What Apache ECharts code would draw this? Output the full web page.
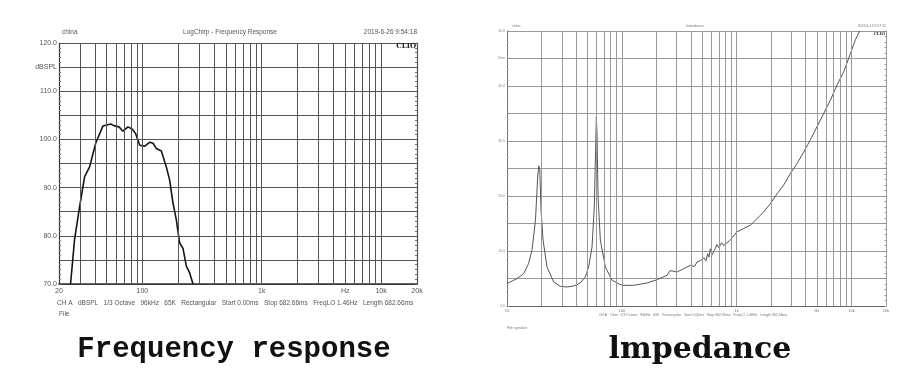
<!DOCTYPE html>
<html>
<head>
<meta charset="utf-8">
<script src="https://cdn.jsdelivr.net/npm/echarts@6/dist/echarts.min.js"></script>
<style>
  html, body { margin: 0; padding: 0; background: #fff; }
  #chart { width: 906px; height: 377px; }
</style>
</head>
<body>
<div id="chart"></div>
<script>
// frequency response (CLIO LogChirp)
var frFreq = [25, 27, 29.8, 32.8, 36.1, 40.6, 46.7, 54.2, 58.5, 63.7, 68.7, 75.7, 82.4, 87.8, 94.9, 104.5, 115, 122.8, 130.9, 144, 158.6, 169, 180.4, 192.4, 205.2, 218.8, 233.4, 249, 265.5]
var frLevel = [70, 79.2, 86.1, 92.3, 94.3, 99.2, 102.8, 103.2, 102.8, 102.6, 101.7, 102.6, 102.1, 101.2, 98.8, 98.6, 99.4, 99.2, 98.1, 97.6, 94.3, 91.6, 86.8, 83.3, 78.5, 77.4, 73.7, 72.3, 70]
var frGridFreqs = [30, 40, 50, 60, 70, 80, 90, 100, 200, 300, 400, 500, 600, 700, 800, 900, 1000, 2000, 3000, 4000, 5000, 6000, 7000, 8000, 9000, 10000, 20000]
var frXTicks = [20, 100, 1000, 5000, 10000, 20000]
var frXTickText = ['20', '100', '1k', 'Hz', '10k', '20k']

// impedance
var impFreq = [10, 12.2, 14, 15.4, 16.5, 17.7, 18.5, 18.9, 19.3, 19.8, 20.6, 22.3, 25.5, 29.2, 33.3, 38.1, 43.5, 48.1, 51.4, 55, 57.6, 59.2, 60, 60.8, 62.1, 65, 71.9, 82.2, 100.4, 126.9, 166, 203, 248, 262, 274, 303, 346, 396, 430, 452, 490, 517, 540, 560, 575, 590, 610, 640, 675, 700, 740, 771, 881, 1007, 1152, 1318, 1507, 1722, 1968, 2249, 2570, 2938, 3358, 3838, 4388, 5012, 5729, 6549, 7495, 8570, 9800, 10820, 11800]
var impOhm = [4.07, 4.98, 5.9, 7.7, 10.1, 15.6, 23.5, 25.5, 24.7, 17.4, 12, 7.1, 4.37, 3.58, 3.46, 3.64, 4.19, 5.28, 7.1, 10.7, 18, 28.9, 34.4, 31.4, 19.8, 12, 7.1, 4.67, 3.76, 3.76, 4.19, 4.79, 5.58, 6.4, 6.37, 6.19, 6.8, 7.4, 7.2, 8.0, 8.3, 8.8, 8.2, 9.5, 8.9, 10.4, 9.3, 10.1, 11.2, 10.6, 11.5, 11.0, 12.0, 13.5, 14.1, 14.7, 15.9, 17.1, 18.6, 20.4, 22, 24.1, 25.9, 28, 30.2, 32.6, 35, 37.4, 40.2, 42.6, 45.9, 48.4, 50]
var impGridFreqs = [20, 30, 40, 50, 60, 70, 80, 90, 100, 200, 300, 400, 500, 600, 700, 800, 900, 1000, 2000, 3000, 4000, 5000, 6000, 7000, 8000, 9000, 10000, 20000]
var impXTicks = [10, 100, 1000, 5000, 10000, 20000]
var impXTickText = ['10', '100', '1k', 'Hz', '10k', '20k']

var sans = '"Liberation Sans", Arial, sans-serif'

function tickText(values, texts) {
  return function (v) {
    for (var i = 0; i < values.length; i++) {
      if (Math.abs(v - values[i]) / values[i] < 0.01) return texts[i]
    }
    return ''
  }
}

function vLines(freqs) {
  return freqs.map(function (f) { return { xAxis: f } })
}

var myChart = echarts.init(document.getElementById('chart'))
var option = {
  animation: false,
  backgroundColor: '#fff',
  grid: [
    { left: 59, top: 43, width: 358, height: 241 },
    { left: 507, top: 31, width: 379, height: 275 },
  ],
  xAxis: [
    {
      type: 'log', logBase: 10, gridIndex: 0, min: 20, max: 20000,
      axisLine: { lineStyle: { color: '#333', width: 1.5 } },
      axisTick: { show: false },
      splitLine: { show: false },
      axisLabel: {
        customValues: frXTicks, formatter: tickText(frXTicks, frXTickText),
        color: '#555', fontSize: 7, fontFamily: sans, margin: 4,
        showMinLabel: true, showMaxLabel: true,
      },
    },
    {
      type: 'log', logBase: 10, gridIndex: 1, min: 10, max: 20000,
      axisLine: { lineStyle: { color: '#666', width: 1 } },
      axisTick: { show: false },
      splitLine: { show: false },
      axisLabel: {
        customValues: impXTicks, formatter: tickText(impXTicks, impXTickText),
        color: '#777', fontSize: 4, fontFamily: sans, margin: 3,
        showMinLabel: true, showMaxLabel: true,
      },
    },
  ],
  yAxis: [
    {
      type: 'value', gridIndex: 0, min: 70, max: 120, interval: 5,
      axisLine: { show: true, lineStyle: { color: '#333', width: 1.2 } },
      axisTick: { show: true, inside: true, length: 3, lineStyle: { color: '#555' } },
      minorTick: { show: true, splitNumber: 5, length: 2, lineStyle: { color: '#777' } },
      splitLine: { show: true, lineStyle: { color: '#555', width: 1 } },
      axisLabel: {
        formatter: function (v) { return v === 115 ? 'dBSPL' : (v % 10 === 0 ? v.toFixed(1) : '') },
        color: '#555', fontSize: 7, fontFamily: sans, margin: 2,
      },
    },
    {
      type: 'value', gridIndex: 0, position: 'right', min: 70, max: 120, interval: 5,
      axisLine: { show: true, lineStyle: { color: '#333', width: 1.2 } },
      axisTick: { show: true, inside: true, length: 3, lineStyle: { color: '#555' } },
      minorTick: { show: true, splitNumber: 5, length: 2, lineStyle: { color: '#777' } },
      splitLine: { show: false },
      axisLabel: { show: false },
    },
    {
      type: 'value', gridIndex: 1, min: 0, max: 50, interval: 5,
      axisLine: { show: true, lineStyle: { color: '#777', width: 1 } },
      axisTick: { show: true, inside: true, length: 2, lineStyle: { color: '#888' } },
      minorTick: { show: true, splitNumber: 5, length: 1.5, lineStyle: { color: '#999' } },
      splitLine: { show: true, lineStyle: { color: '#999', width: 1 } },
      axisLabel: {
        formatter: function (v) { return v === 45 ? 'Ohm' : (v % 10 === 0 ? v.toFixed(1) : '') },
        color: '#888', fontSize: 3.5, fontFamily: sans, margin: 2,
      },
    },
    {
      type: 'value', gridIndex: 1, position: 'right', min: 0, max: 50, interval: 5,
      axisLine: { show: true, lineStyle: { color: '#777', width: 1 } },
      axisTick: { show: true, inside: true, length: 2, lineStyle: { color: '#888' } },
      minorTick: { show: true, splitNumber: 5, length: 1.5, lineStyle: { color: '#999' } },
      splitLine: { show: false },
      axisLabel: { show: false },
    },
  ],
  series: [
    {
      type: 'line', xAxisIndex: 0, yAxisIndex: 0,
      data: frFreq.map(function (f, i) { return [f, frLevel[i]] }),
      symbol: 'none', smooth: false,
      lineStyle: { color: '#151515', width: 1.6 },
      markLine: {
        silent: true, symbol: ['none', 'none'], label: { show: false },
        lineStyle: { type: 'solid', color: '#555', width: 1 },
        data: vLines(frGridFreqs),
      },
      z: 3,
    },
    {
      type: 'line', xAxisIndex: 1, yAxisIndex: 2,
      data: impFreq.map(function (f, i) { return [f, impOhm[i]] }),
      symbol: 'none', smooth: false,
      lineStyle: { color: '#555', width: 1 },
      markLine: {
        silent: true, symbol: ['none', 'none'], label: { show: false },
        lineStyle: { type: 'solid', color: '#999', width: 1 },
        data: vLines(impGridFreqs),
      },
      z: 3,
    },
  ],
  graphic: [
    // left chart header / footer
    { type: 'text', x: 62, y: 32, style: { text: 'china', font: '6.5px ' + sans, fill: '#555', align: 'left', verticalAlign: 'middle' } },
    { type: 'text', x: 230, y: 32, style: { text: 'LogChirp - Frequency Response', font: '6.5px ' + sans, fill: '#555', align: 'center', verticalAlign: 'middle' } },
    { type: 'text', x: 417, y: 32, style: { text: '2019-6-26 9:54:18', font: '6.5px ' + sans, fill: '#555', align: 'right', verticalAlign: 'middle' } },
    { type: 'text', x: 416, y: 46, z: 10, style: { text: 'CLIO', font: 'bold 7px "DejaVu Serif", serif', fill: '#222', align: 'right', verticalAlign: 'middle' } },
    { type: 'text', x: 57, y: 303, style: { text: 'CH A   dBSPL   1/3 Octave   96kHz   65K   Rectangular   Start 0.00ms   Stop 682.66ms   FreqLO 1.46Hz   Length 682.66ms', font: '6.5px ' + sans, fill: '#555', align: 'left', verticalAlign: 'middle' } },
    { type: 'text', x: 59, y: 314, style: { text: 'File', font: '6.5px ' + sans, fill: '#555', align: 'left', verticalAlign: 'middle' } },
    // right chart header / footer
    { type: 'text', x: 512, y: 26, style: { text: 'china', font: '3.5px ' + sans, fill: '#777', align: 'left', verticalAlign: 'middle' } },
    { type: 'text', x: 695, y: 26, style: { text: 'Impedance', font: '3.5px ' + sans, fill: '#777', align: 'center', verticalAlign: 'middle' } },
    { type: 'text', x: 886, y: 26, style: { text: '2019-6-11 9:57:22', font: '3.5px ' + sans, fill: '#777', align: 'right', verticalAlign: 'middle' } },
    { type: 'text', x: 885, y: 33.5, z: 10, style: { text: 'CLIO', font: 'bold 4px "DejaVu Serif", serif', fill: '#333', align: 'right', verticalAlign: 'middle' } },
    { type: 'text', x: 693, y: 315, style: { text: 'CH A   Ohm   1/3 Octave   96kHz   65K   Rectangular   Start 0.00ms   Stop 682.66ms   FreqLO 1.46Hz   Length 682.66ms', font: '3.5px ' + sans, fill: '#777', align: 'center', verticalAlign: 'middle' } },
    { type: 'text', x: 507, y: 328, style: { text: 'File: speaker', font: '3.5px ' + sans, fill: '#777', align: 'left', verticalAlign: 'middle' } },
    // captions
    { type: 'text', x: 234, y: 350, style: { text: 'Frequency response', font: 'bold 29px "Liberation Mono", monospace', fill: '#111', align: 'center', verticalAlign: 'middle' } },
    { type: 'text', x: 700, y: 350, style: { text: 'lmpedance', font: 'bold 30px "DejaVu Serif", serif', fill: '#111', align: 'center', verticalAlign: 'middle' } },
  ],
}
myChart.setOption(option)
</script>
</body>
</html>
